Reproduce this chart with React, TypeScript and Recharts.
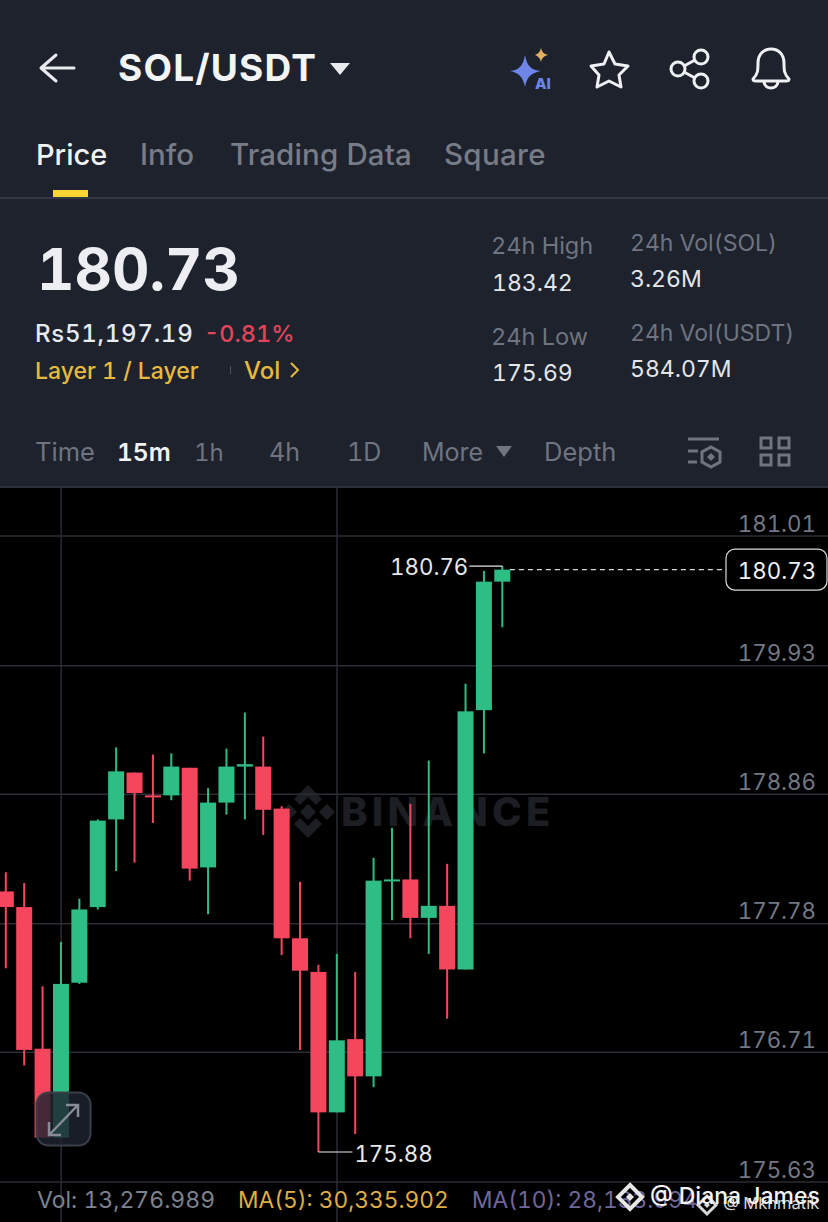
import React from "react";
import { ComposedChart, Bar, XAxis, YAxis, CartesianGrid, ReferenceLine, ReferenceDot } from "recharts";

const FONT = "Inter, 'Noto Sans', sans-serif";
const GREEN = "#2ebd85";
const RED = "#f6465d";

// index in the visible window, oldest first
const opens = [178.05,177.92,176.74,176.0,177.29,177.92,178.65,179.04,178.85,178.85,179.08,178.25,178.79,179.09,179.09,178.74,177.66,177.38,176.21,176.82,176.51,178.14,178.15,177.83,177.93,177.4,179.56,180.63];
const closes = [177.92,176.73,176.0,177.28,177.9,178.64,179.05,178.87,178.84,179.09,178.24,178.79,179.09,179.11,178.73,177.66,177.39,176.21,176.81,176.51,178.14,178.15,177.83,177.93,177.4,179.55,180.63,180.73];
const highs = [178.21,178.12,177.26,177.63,177.99,178.65,179.25,179.04,179.19,179.2,179.08,178.91,179.24,179.54,179.34,178.76,178.13,177.44,177.53,177.38,178.33,178.58,178.78,179.14,178.28,179.78,180.72,180.76];
const lows = [177.41,176.6,176.0,176.0,177.28,177.9,178.22,178.29,178.62,178.81,178.14,177.86,178.69,178.65,178.52,177.52,176.73,175.88,176.21,176.03,176.42,177.81,177.66,177.53,176.99,177.4,179.2,180.25];
const priceTicks = [181.01, 179.93, 178.86, 177.78, 176.71, 175.63];
const gridIndexes = [3, 18];
const lastPrice = 180.73;
const peak = 180.76;
const trough = 175.88;

const rows = opens.map((open, i) => ({ i, open, close: closes[i], high: highs[i], low: lows[i] }));

const NUM: any = { fontVariantNumeric: "tabular-nums" };

const Candle = (props: any) => {
  const { x, y, width, height, payload } = props;
  const { open, close, high, low } = payload;
  const k = height / (high - low);
  const up = close >= open;
  const color = up ? GREEN : RED;
  const cx = x + width / 2;
  const top = y + (high - Math.max(open, close)) * k;
  const h = Math.max(Math.abs(open - close) * k, 2);
  return (
    <g>
      <rect x={cx - 1} y={y} width={2} height={height} fill={color} />
      <rect x={cx - 8} y={top} width={16} height={h} fill={color} />
      {high === peak && (
        <g>
          <line x1={cx - 33} x2={cx} y1={y} y2={y} stroke="#e6e8ec" strokeWidth={1.2} />
          <text x={cx - 34} y={y + 9} textAnchor="end" fill="#e6e8ec" fontSize={22.3} fontFamily={FONT} style={NUM}>{peak.toFixed(2)}</text>
        </g>
      )}
      {low === trough && (
        <g>
          <line x1={cx} x2={cx + 34} y1={y + height} y2={y + height} stroke="#e6e8ec" strokeWidth={1.2} />
          <text x={cx + 36} y={y + height + 10} fill="#e6e8ec" fontSize={22.3} fontFamily={FONT} style={NUM}>{trough.toFixed(2)}</text>
        </g>
      )}
    </g>
  );
};

const PriceTick = (props: any) => (
  <text x={816} y={props.y - 4.5} textAnchor="end" fill="#737883" fontSize={22.3} fontFamily={FONT} style={NUM}>
    {Number(props.payload.value).toFixed(2)}
  </text>
);

const EmptyTick = () => <g />;

const LastBadge = (props: any) => (
  <g>
    <rect x={726} y={props.cy - 20.5} width={101} height={41} rx={9} fill="#000" stroke="#d6d9de" strokeWidth={1.2} />
    <text x={777} y={props.cy + 9} textAnchor="middle" fill="#f0f1f3" fontSize={22.3} fontFamily={FONT} style={NUM}>{lastPrice.toFixed(2)}</text>
  </g>
);

const T = (p: any) => <text fontFamily={FONT} style={NUM} {...p} />;

const Header = () => (
  <svg width={828} height={488} style={{ position: "absolute", left: 0, top: 0 }}>
    <rect width={828} height={488} fill="#1d222d" />
    <path d="M74 68H42M56 55L41 68L56 81" fill="none" stroke="#e8eaee" strokeWidth={3} strokeLinecap="round" strokeLinejoin="round" />
    <T x={118} y={81} fontSize={37} fontWeight={700} letterSpacing={1.2} fill="#f3f4f6">SOL/USDT</T>
    <path d="M330 63H350L340 75Z" fill="#e8eaee" />
    <path d="M525 55C527 66 531 70 541 71C531 73 527 77 525 87C523 77 519 73 510 71C519 70 523 66 525 55Z" fill="#6f86e8" />
    <path d="M541 48C542 52 544 54 548 55C544 56 542 58 541 62C540 58 538 56 535 55C538 54 540 52 541 48Z" fill="#e0b060" />
    <T x={535} y={89} fontSize={15} fontWeight={800} fill="#6f86e8">AI</T>
    <path d="M609 52L615 64L628 66L619 75L621 87L609 81L597 87L599 75L591 66L604 64Z" fill="none" stroke="#eef0f3" strokeWidth={3} strokeLinejoin="round" />
    <g fill="none" stroke="#eef0f3" strokeWidth={3}>
      <circle cx={701} cy={57} r={7} />
      <circle cx={678} cy={69} r={7} />
      <circle cx={701} cy={81} r={7} />
      <path d="M684 66L695 60M684 72L695 78" />
    </g>
    <path d="M753 79C758 74 758 70 758 63C758 55 763 49 771 49C779 49 784 55 784 63C784 70 784 74 789 79C789 81 788 81 786 81H756C754 81 753 81 753 79ZM764 82C765 90 777 90 778 82" fill="none" stroke="#eef0f3" strokeWidth={3} strokeLinejoin="round" />

    <T x={36} y={165} fontSize={29} fontWeight={500} fill="#f1f2f4">Price</T>
    <T x={140} y={165} fontSize={29.5} fontWeight={500} fill="#777c87">Info</T>
    <T x={230} y={165} fontSize={29.5} fontWeight={500} letterSpacing={0.15} fill="#777c87">Trading Data</T>
    <T x={444} y={165} fontSize={29.5} fontWeight={500} letterSpacing={0.3} fill="#777c87">Square</T>
    <rect x={0} y={197} width={828} height={2} fill="#333741" />
    <rect x={53} y={190} width={35} height={7} fill="#fcd535" />

    <T x={37} y={290} fontSize={58} fontWeight={700} fill="#eceef2">180.73</T>
    <T x={35} y={342} fontSize={24} fontWeight={500} letterSpacing={0.75} fill="#e8eaee">Rs51,197.19</T>
    <T x={204} y={342} fontSize={23.5} fontWeight={500} fill="#e2455a">-0.81%</T>
    <T x={35} y={379} fontSize={23} fontWeight={500} fill="#e8b93f">Layer 1 / Layer</T>
    <rect x={230} y={366} width={1} height={8} fill="#4a4f59" />
    <T x={244} y={379} fontSize={24} fontWeight={500} fill="#e8b93f">Vol</T>
    <path d="M291 363L298 370L291 377" fill="none" stroke="#e8b93f" strokeWidth={2} />

    <T x={491} y={254} fontSize={23.5} fill="#6f7480">24h High</T>
    <T x={492} y={291} fontSize={23} fill="#e4e6ea">183.42</T>
    <T x={630} y={251} fontSize={23} fill="#6f7480">24h Vol(SOL)</T>
    <T x={630} y={287} fontSize={23} fill="#e4e6ea">3.26M</T>
    <T x={491} y={345} fontSize={23.5} fill="#6f7480">24h Low</T>
    <T x={492} y={381} fontSize={23} fill="#e4e6ea">175.69</T>
    <T x={630} y={341} fontSize={23} fill="#6f7480">24h Vol(USDT)</T>
    <T x={630} y={377} fontSize={23} fill="#e4e6ea">584.07M</T>

    <T x={35} y={461} fontSize={25.5} fill="#6f7480">Time</T>
    <T x={117} y={461} fontSize={24.5} fontWeight={600} fill="#f1f2f4">15m</T>
    <T x={194} y={461} fontSize={24} fill="#6f7480">1h</T>
    <T x={269} y={461} fontSize={25} fill="#6f7480">4h</T>
    <T x={347} y={461} fontSize={25} fill="#6f7480">1D</T>
    <T x={422} y={461} fontSize={25} fill="#6f7480">More</T>
    <path d="M496 446H512L504 457Z" fill="#6f7480" />
    <T x={544} y={461} fontSize={25.5} fill="#6f7480">Depth</T>
    <g fill="none" stroke="#6f7480" strokeWidth={3}>
      <path d="M688 439H719M688 451H698M688 462H697" />
      <path d="M711 447L720 452V462L711 467L702 462V452Z" />
      <path d="M711 453L715 457L711 461L707 457Z" fill="#6f7480" stroke="none" />
      <rect x={761} y={438} width={10} height={10} />
      <rect x={779} y={438} width={10} height={10} />
      <rect x={761} y={455} width={10} height={10} />
      <rect x={779} y={455} width={10} height={10} />
    </g>
    <rect x={0} y={486} width={828} height={2} fill="#2c303a" />
  </svg>
);

const Watermark = () => (
  <svg width={828} height={734} style={{ position: "absolute", left: 0, top: 488 }}>
    <rect width={828} height={734} fill="#000" />
    <g fill="#1c1e23" transform="translate(0,-488)">
      <path d="M308 785L322 799L316 805L308 797L300 805L294 799Z" />
      <path d="M308 838L322 824L316 818L308 826L300 818L294 824Z" />
      <path d="M308 804L316 812L308 820L300 812Z" />
      <path d="M289 804L297 812L289 820L281 812Z" />
      <path d="M327 804L335 812L327 820L319 812Z" />
      <text x={341} y={826} fontFamily={FONT} fontSize={40} fontWeight={800} letterSpacing={4.2}>BINANCE</text>
    </g>
  </svg>
);

const Overlay = () => (
  <svg width={828} height={1222} style={{ position: "absolute", left: 0, top: 0, pointerEvents: "none" }}>
    <rect x={36.5} y={1092.5} width={54} height={53} rx={12} fill="rgba(30,35,48,0.82)" stroke="#3a3e48" strokeWidth={2} />
    <path d="M50 1134L77 1106M66 1105H78V1117M49 1122V1135H61" fill="none" stroke="#868b96" strokeWidth={2.5} />
    <T x={37} y={1208} fontSize={23} fill="#7d828d">Vol: 13,276.989</T>
    <T x={238} y={1208} fontSize={22.7} fill="#dfae45">MA(5): 30,335.902</T>
    <T x={472} y={1208} fontSize={22.7} fill="#6f6799">MA(10): 28,133.994</T>
    <path d="M707 1196L716 1205L707 1214L698 1205Z" fill="none" stroke="#d8d8d8" strokeWidth={3} />
    <path d="M707 1202L710 1205L707 1208L704 1205Z" fill="#d8d8d8" />
    <T x={723} y={1209} fontSize={16.5} fill="#d8d8d8">@ Mkhmatik</T>
    <path d="M630 1185L642 1197L630 1209L618 1197Z" fill="none" stroke="#e6e6e6" strokeWidth={4} />
    <path d="M630 1193L634 1197L630 1201L626 1197Z" fill="#e6e6e6" />
    <T x={650} y={1204} fontSize={23} fontWeight={500} fill="#f5f5f5">@ Diana James</T>
  </svg>
);

export default function App() {
  return (
    <div style={{ position: "fixed", left: 0, top: 0, width: 828, height: 1222, overflow: "hidden", background: "#000" }}>
      <Header />
      <Watermark />
      <div style={{ position: "absolute", left: 0, top: 488 }}>
        <ComposedChart width={828} height={734} data={rows} margin={{ top: 0, right: 0, bottom: 0, left: 0 }}>
          <CartesianGrid stroke="#2b2d34" strokeWidth={1.5} syncWithTicks />
          <XAxis dataKey="i" type="number" domain={[-0.326, 44.7]} ticks={gridIndexes} interval={0} tick={<EmptyTick />} axisLine={false} tickLine={false} height={0} allowDataOverflow />
          <YAxis orientation="right" mirror width={1} domain={[175.297, 181.41]} ticks={priceTicks} interval={0} tick={<PriceTick />} axisLine={false} tickLine={false} allowDataOverflow />
          <ReferenceLine segment={[{ x: 27.4, y: lastPrice }, { x: 39.15, y: lastPrice }]} stroke="#d8dbe0" strokeDasharray="5 4" strokeWidth={1.2} />
          <Bar dataKey={(d: any) => [d.low, d.high]} barSize={16} shape={<Candle />} isAnimationActive={false} />
          <ReferenceDot x={42} y={lastPrice} r={1} shape={<LastBadge />} ifOverflow="visible" />
        </ComposedChart>
      </div>
      <Overlay />
    </div>
  );
}
